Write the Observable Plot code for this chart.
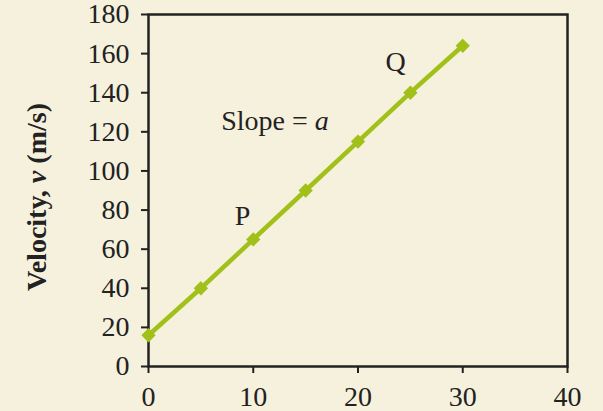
<!DOCTYPE html>
<html>
<head>
<meta charset="utf-8">
<script src="https://cdn.jsdelivr.net/npm/d3@7"></script>
<script src="https://cdn.jsdelivr.net/npm/@observablehq/plot@0.6"></script>
<style>
  html, body { margin: 0; padding: 0; background: #f6f1dc; }
  #chart { width: 603px; height: 411px; }
</style>
</head>
<body>
<div id="chart"></div>
<script>
const times = [0, 5, 10, 15, 20, 25, 30];
const velocities = [16, 40, 65, 90, 115, 140, 164];
const xTicks = [0, 10, 20, 30, 40];
const yTicks = [0, 20, 40, 60, 80, 100, 120, 140, 160, 180];
const pointLabels = [
  {x: 8.97, y: 76.7, text: "P"},
  {x: 23.6, y: 155.5, text: "Q"}
];
const slopeLabel = [{x: 6.94, y: 125.3, text: "Slope = a"}];
const yTitle = ["Velocity, ", "v", " (m/s)"];

const data = times.map((t, i) => ({t, v: velocities[i]}));
const lineColor = "#a2c01a";

const plot = Plot.plot({
  width: 603,
  height: 411,
  marginLeft: 148,
  marginRight: 36,
  marginTop: 14,
  marginBottom: 45,
  style: {background: "#f6f1dc", fontFamily: "'Liberation Serif', 'Times New Roman', serif", fontSize: "28px", color: "#222"},
  x: {domain: [0, 40], ticks: xTicks, label: null},
  y: {domain: [0, 180], ticks: yTicks, label: null},
  marks: [
    Plot.axisX({ticks: xTicks, tickSize: 7, tickPadding: 13, fontSize: 28, strokeWidth: 2, label: null}),
    Plot.axisY({ticks: yTicks, tickSize: 7, tickPadding: 12, fontSize: 28, strokeWidth: 2, label: null}),
    Plot.frame({stroke: "#222", strokeWidth: 2.5}),
    Plot.line(data, {x: "t", y: "v", stroke: lineColor, strokeWidth: 4.5}),
    Plot.dot(data, {x: "t", y: "v", symbol: "diamond2", r: 5.5, fill: lineColor, stroke: lineColor}),
    Plot.text(pointLabels, {x: "x", y: "y", text: "text", textAnchor: "middle", fontSize: 28, fill: "#222"}),
    Plot.text(slopeLabel, {x: "x", y: "y", text: "text", textAnchor: "start", fontSize: 28, fill: "#222"})
  ]
});

// italic "a" in the slope label
d3.select(plot).selectAll("text").each(function() {
  const el = d3.select(this);
  if (el.text() === "Slope = a") {
    el.text("");
    el.append("tspan").text("Slope = ");
    el.append("tspan").attr("font-style", "italic").text("a");
  }
});

// y-axis title with bold italic v
const title = d3.select(plot).append("text")
  .attr("transform", "translate(40,197) rotate(-90)")
  .attr("text-anchor", "middle")
  .attr("dominant-baseline", "middle")
  .attr("font-weight", "bold")
  .attr("font-size", 28)
  .attr("fill", "#222");
title.append("tspan").text(yTitle[0]);
title.append("tspan").attr("font-style", "italic").text(yTitle[1]);
title.append("tspan").text(yTitle[2]);

document.getElementById("chart").append(plot);
</script>
</body>
</html>
